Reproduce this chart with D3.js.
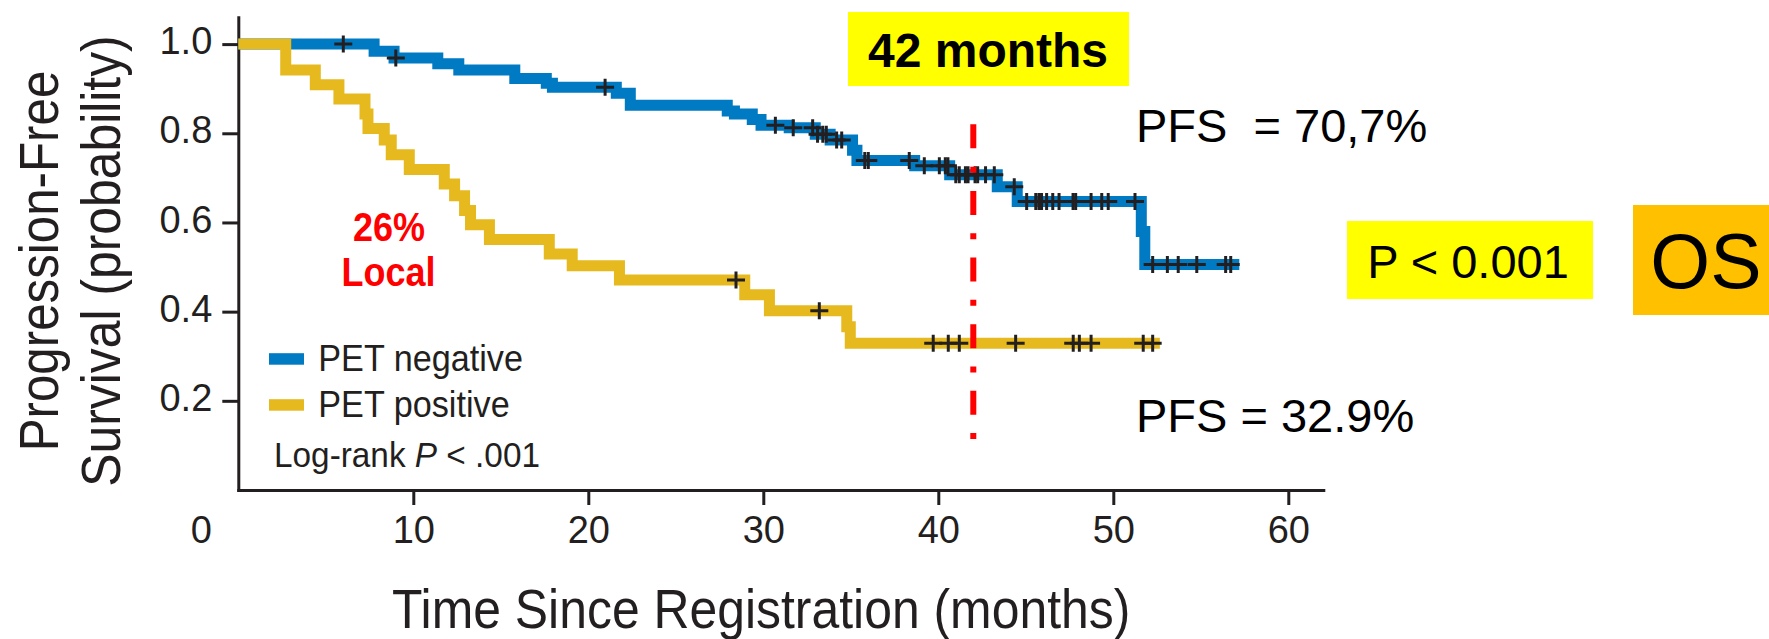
<!DOCTYPE html>
<html>
<head>
<meta charset="utf-8">
<script src="https://cdn.jsdelivr.net/npm/d3@7"></script>
<style>
  html, body { margin: 0; padding: 0; background: #ffffff; }
  svg { display: block; }
  text { font-family: "Liberation Sans", Arial, Helvetica, sans-serif; }
</style>
</head>
<body>
<svg id="chart" width="1769" height="639"></svg>
<script>
// Kaplan-Meier step points: time (months) where survival drops, and survival after the drop
const negTimes = [0, 7.76, 8.9, 11.4, 12.6, 15.8, 17.6, 17.95, 21.6, 22.4, 27.94, 28.35, 29.37, 29.87, 31.48, 32.97, 33.82, 35.1, 35.35, 38.65, 40.65, 43.37, 44.51, 51.6, 51.8];
const negSurv  = [1.0, 0.984, 0.969, 0.956, 0.942, 0.923, 0.912, 0.903, 0.89, 0.863, 0.85, 0.843, 0.831, 0.818, 0.8125, 0.798, 0.785, 0.762, 0.739, 0.727, 0.707, 0.68, 0.647, 0.58, 0.506];
const negLastFollowUp = 57.2;
const negCensored = [6.0, 9.0, 20.96, 30.69, 31.71, 32.82, 33.1, 33.4, 33.6, 34.19, 34.48, 35.8, 36.0, 38.34, 39.2, 40.06, 40.4, 40.55, 41.0, 41.2, 41.55, 41.7, 42.1, 42.25, 42.7, 43.2, 44.34, 45.05, 45.57, 45.75, 45.9, 46.19, 46.54, 46.9, 47.7, 47.85, 48.73, 49.34, 49.71, 51.24, 52.25, 53.09, 53.71, 54.77, 56.42, 56.71];

const posTimes = [0, 2.71, 4.4, 5.75, 7.24, 7.41, 8.34, 8.74, 9.77, 11.77, 12.36, 12.93, 13.27, 14.35, 17.77, 19.08, 21.78, 28.94, 30.35, 34.77, 34.97];
const posSurv  = [1.0, 0.942, 0.909, 0.877, 0.843, 0.811, 0.785, 0.752, 0.719, 0.686, 0.66, 0.627, 0.595, 0.562, 0.529, 0.503, 0.471, 0.438, 0.402, 0.366, 0.329];
const posLastFollowUp = 52.66;
const posCensored = [28.44, 33.2, 39.71, 40.57, 41.2, 44.42, 47.71, 48.06, 48.73, 51.71, 52.25];

// Axis ticks
const xTicks = [10, 20, 30, 40, 50, 60];
const yTicks = [0.2, 0.4, 0.6, 0.8, 1.0];

// Landmark time and the survival estimates read at it
const landmarkMonths = 42;
const landmarkSpan = [0.11, 0.82];
const negAtLandmark = "70,7%";
const posAtLandmark = "32.9%";

const seriesNames = ["PET negative", "PET positive"];
const seriesColors = ["#007ac2", "#e6b91f"];
const ink = "#231f20";

const svg = d3.select("#chart");
const x = d3.scaleLinear().domain([0, 62]).range([238.3, 1323.3]);
const y = d3.scaleLinear().domain([0, 1.06]).range([490, 17.35]);

// ---- axes ----
const yAxis = svg.append("g")
  .attr("transform", `translate(${x(0)},0)`)
  .call(d3.axisLeft(y).tickValues(yTicks).tickSize(16).tickSizeOuter(0)
    .tickPadding(10).tickFormat(d3.format(".1f")));
const xAxis = svg.append("g")
  .attr("transform", `translate(0,${y(0)})`)
  .call(d3.axisBottom(x).tickValues(xTicks).tickSize(15).tickSizeOuter(0));

[yAxis, xAxis].forEach(g => {
  g.attr("font-family", null).attr("font-size", null);
  g.select(".domain").attr("stroke", ink).attr("stroke-width", 3).attr("stroke-linecap", "square");
  g.selectAll(".tick line").attr("stroke", ink).attr("stroke-width", 3);
  g.selectAll(".tick text").attr("fill", ink).style("font-size", "38px");
});
yAxis.selectAll(".tick text").attr("dy", "0.255em");
xAxis.selectAll(".tick text").attr("y", 52.5).attr("dy", 0);

// the origin label sits at the lower-left corner
svg.append("text")
  .attr("x", x(0) - 37).attr("y", y(0) + 52.5)
  .attr("text-anchor", "middle").attr("fill", ink)
  .style("font-size", "38px").text("0");

// horizontally condensed text helper
function narrowText(parent, px, py, str, size, ratio, anchor) {
  return parent.append("text")
    .attr("transform", `translate(${px},${py}) scale(${ratio},1)`)
    .attr("text-anchor", anchor || "start")
    .attr("fill", ink)
    .style("font-size", size + "px")
    .text(str);
}

// axis titles
narrowText(svg, 392, 628, "Time Since Registration (months)", 55, 0.907);
const yTitle = svg.append("g").attr("transform", "translate(58.3,261) rotate(-90)");
yTitle.append("text").attr("transform", "scale(0.88,1)").attr("text-anchor", "middle")
  .attr("fill", ink).style("font-size", "56px").text("Progression-Free");
const yTitle2 = svg.append("g").attr("transform", "translate(120,261) rotate(-90)");
yTitle2.append("text").attr("transform", "scale(0.89,1)").attr("text-anchor", "middle")
  .attr("fill", ink).style("font-size", "56px").text("Survival (probability)");

// ---- survival curves ----
function stepPoints(times, surv, last) {
  const pts = times.map((t, i) => [t, surv[i]]);
  pts.push([last, surv[surv.length - 1]]);
  return pts;
}
function survAt(times, surv, t) {
  let v = surv[0];
  for (let i = 0; i < times.length; i++) if (times[i] <= t) v = surv[i];
  return v;
}
const line = d3.line().x(d => x(d[0])).y(d => y(d[1])).curve(d3.curveStepAfter);

const curves = [
  { pts: stepPoints(negTimes, negSurv, negLastFollowUp), color: seriesColors[0] },
  { pts: stepPoints(posTimes, posSurv, posLastFollowUp), color: seriesColors[1] }
];
svg.append("g").selectAll("path").data(curves).join("path")
  .attr("d", d => line(d.pts))
  .attr("fill", "none")
  .attr("stroke", d => d.color)
  .attr("stroke-width", 11)
  .attr("stroke-linejoin", "miter")
  .attr("stroke-linecap", "butt");

// censoring marks
const censorPts = [
  ...negCensored.map(t => [t, survAt(negTimes, negSurv, t)]),
  ...posCensored.map(t => [t, survAt(posTimes, posSurv, t)])
];
svg.append("g").selectAll("path").data(censorPts).join("path")
  .attr("transform", d => `translate(${x(d[0])},${y(d[1])})`)
  .attr("d", "M-9,0H9M0,-8.5V8.5")
  .attr("stroke", ink).attr("stroke-width", 3).attr("fill", "none");

// ---- legend ----
const legend = svg.append("g");
seriesNames.forEach((name, i) => {
  const base = 370.7 + i * 46;
  legend.append("rect")
    .attr("x", 269).attr("y", base - 17.5).attr("width", 35).attr("height", 11.5)
    .attr("fill", seriesColors[i]);
  narrowText(legend, 318.3, base, name, 36, 0.95);
});
const logRank = narrowText(legend, 274, 466.7, "", 35, 0.953);
logRank.append("tspan").text("Log-rank ");
logRank.append("tspan").attr("font-style", "italic").text("P");
logRank.append("tspan").text(" < .001");

// ---- landmark line and annotations ----
svg.append("line")
  .attr("x1", x(landmarkMonths)).attr("x2", x(landmarkMonths))
  .attr("y1", y(landmarkSpan[1])).attr("y2", y(landmarkSpan[0]))
  .attr("stroke", "#ff0000").attr("stroke-width", 6)
  .attr("stroke-dasharray", "24 18.3 6 18.3");

svg.append("rect").attr("x", 848).attr("y", 12).attr("width", 281).attr("height", 74).attr("fill", "#ffff00");
svg.append("text").attr("x", 988).attr("y", 66.7).attr("text-anchor", "middle")
  .attr("fill", "#000").attr("font-weight", "bold").style("font-size", "48px")
  .text(landmarkMonths + " months");

svg.append("text").attr("x", 1136).attr("y", 142).attr("fill", "#000")
  .style("font-size", "47px").style("white-space", "pre")
  .text("PFS  = " + negAtLandmark);
svg.append("text").attr("x", 1136).attr("y", 432).attr("fill", "#000")
  .style("font-size", "47px")
  .text("PFS = " + posAtLandmark);

const red = svg.append("g").attr("fill", "#ff0000").attr("font-weight", "bold");
red.append("text").attr("transform", "translate(389,241) scale(0.9,1)")
  .attr("text-anchor", "middle").style("font-size", "40px").text("26%");
red.append("text").attr("transform", "translate(388.5,286) scale(0.9,1)")
  .attr("text-anchor", "middle").style("font-size", "40px").text("Local");

svg.append("rect").attr("x", 1347).attr("y", 221).attr("width", 246).attr("height", 78).attr("fill", "#ffff00");
svg.append("text").attr("x", 1468).attr("y", 278.3).attr("text-anchor", "middle")
  .attr("fill", "#000").style("font-size", "47px").text("P < 0.001");

svg.append("rect").attr("x", 1633).attr("y", 205).attr("width", 136).attr("height", 110).attr("fill", "#ffc000");
svg.append("text").attr("x", 1706).attr("y", 288.3).attr("text-anchor", "middle")
  .attr("fill", "#000").style("font-size", "77px").text("OS");
</script>
</body>
</html>
